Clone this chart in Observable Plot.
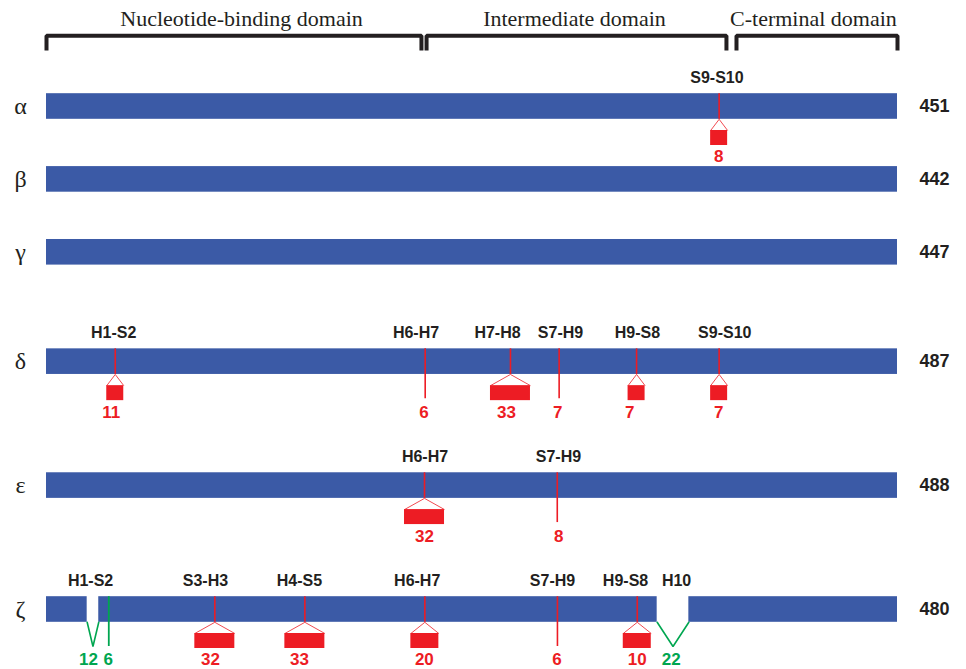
<!DOCTYPE html>
<html>
<head>
<meta charset="utf-8">
<script src="https://cdn.jsdelivr.net/npm/d3@7"></script>
<script src="https://cdn.jsdelivr.net/npm/@observablehq/plot@0.6"></script>
<style>
  html, body { margin: 0; padding: 0; background: #ffffff; }
  #chart svg { display: block; }
</style>
</head>
<body>
<div id="chart"></div>
<script>
// ---------- DATA (x = alignment position, 0..500) ----------
const chains = ["α", "β", "γ", "δ", "ε", "ζ"];
const chainLengths = [451, 442, 447, 487, 488, 480];

const domainNames = ["Nucleotide-binding domain", "Intermediate domain", "C-terminal domain"];
const domainStart = [0, 223.3, 405.4];
const domainEnd = [220.3, 399.5, 500];
const domainLabelAt = [114.6, 310.2, 450.6];

// insertions (red)
const insChain  = ["α", "δ", "δ", "δ", "δ", "δ", "δ", "ε", "ε", "ζ", "ζ", "ζ", "ζ", "ζ"];
const insPos    = [395.2, 40.4, 222.5, 272.6, 301.2, 346.7, 395.2, 222.1, 300.1, 98.9, 151.8, 222.3, 300.2, 347.1];
const insLength = [8, 11, 6, 33, 7, 7, 7, 32, 8, 32, 33, 20, 6, 10];
const insLabelAt = [394.9, 38, 221.8, 270.3, 300.4, 342.7, 394.9, 222.1, 301, 96.4, 148.6, 222, 300, 347.1];
const insGlyph  = ["s", "s", "line", "l", "line", "s", "s", "l", "line", "l", "l", "m", "line", "m"];

// deletions (green)
const delChain  = ["ζ", "ζ", "ζ"];
const delFrom   = [23.9, 36.6, 358.8];
const delTo     = [30.7, 36.6, 377.4];
const delLength = [12, 6, 22];
const delLabelAt = [24.7, 36.2, 367.0];

// loop / secondary-structure labels
const loopChain = ["α", "δ", "δ", "δ", "δ", "δ", "δ", "ε", "ε", "ζ", "ζ", "ζ", "ζ", "ζ", "ζ", "ζ"];
const loopName  = ["S9-S10", "H1-S2", "H6-H7", "H7-H8", "S7-H9", "H9-S8", "S9-S10", "H6-H7", "S7-H9",
                   "H1-S2", "S3-H3", "H4-S5", "H6-H7", "S7-H9", "H9-S8", "H10"];
const loopAt    = [393.9, 39.5, 217.1, 265, 302, 347.2, 398.5, 222.4, 300.8,
                   25.9, 93.4, 148.6, 217.8, 297.3, 340.2, 370.2];

// ---------- LAYOUT ----------
const rowTrack = [0, 1, 2, 3.5, 5.2, 6.9];          // vertical track of each chain
const xDomain = [0, 500], xRange = [46, 897];
const yDomain = [0, 6.9], yRange = [106, 609];
const pxPerTrack = (yRange[1] - yRange[0]) / (yDomain[1] - yDomain[0]);
const unitsPerPx = (xDomain[1] - xDomain[0]) / (xRange[1] - xRange[0]);
const dyT = px => px / pxPerTrack;   // pixel offset -> track units
const dxU = px => px * unitsPerPx;   // pixel width -> x units

const track = Object.fromEntries(chains.map((c, i) => [c, rowTrack[i]]));
const BAR = 12.8;                    // half bar height (px)
const glyphHalf = {s: 8.5, m: 14, l: 20};

const BLUE = "#3b5aa6", RED = "#ed1c24", GREEN = "#00a650", INK = "#231f20";
const SANS = "Liberation Sans, Arial, sans-serif";
const SERIF = "Liberation Serif, Times New Roman, serif";

const rows = chains.map((c, i) => ({chain: c, len: chainLengths[i], t: track[c]}));
const domains = domainNames.map((n, i) => ({name: n, a: domainStart[i], b: domainEnd[i], at: domainLabelAt[i]}));
const ins = insChain.map((c, i) => ({chain: c, t: track[c], pos: insPos[i], n: insLength[i], g: insGlyph[i], at: insLabelAt[i]}));
const dels = delChain.map((c, i) => ({chain: c, t: track[c], a: delFrom[i], b: delTo[i], n: delLength[i], at: delLabelAt[i], id: i}));
const loops = loopChain.map((c, i) => ({t: track[c], name: loopName[i], at: loopAt[i]}));

const boxed = ins.filter(d => d.g !== "line");
const arms = boxed.flatMap(d => [-1, 1].map(s => ({
  x1: d.pos, y1: d.t + dyT(BAR), x2: d.pos + s * dxU(glyphHalf[d.g]), y2: d.t + dyT(24)
})));
const gaps = dels.filter(d => d.b > d.a);
const vPoints = gaps.flatMap(d => [
  {id: d.id, x: d.a, y: d.t + dyT(BAR)},
  {id: d.id, x: (d.a + d.b) / 2, y: d.t + dyT(37)},
  {id: d.id, x: d.b, y: d.t + dyT(BAR)}
]);
const delLines = dels.filter(d => d.b === d.a);

const bracketPts = domains.flatMap((d, i) => [
  {i, x: d.a, y: dyT(50 - yRange[0])},
  {i, x: d.a, y: dyT(35.3 - yRange[0])},
  {i, x: d.b, y: dyT(35.3 - yRange[0])},
  {i, x: d.b, y: dyT(50 - yRange[0])}
]);

const chart = Plot.plot({
  width: 966,
  height: 669,
  margin: 0,
  x: {domain: xDomain, range: xRange, axis: null},
  y: {domain: yDomain, range: yRange, axis: null},
  style: {background: "#ffffff"},
  marks: [
    // domain brackets
    Plot.line(bracketPts, {x: "x", y: "y", z: "i", stroke: INK, strokeWidth: 4,
      strokeLinejoin: "miter", strokeLinecap: "butt"}),
    Plot.text(domains, {x: "at", y: dyT(18 - yRange[0]), text: "name",
      fontFamily: SERIF, fontSize: 22, fill: INK}),
    // chain bars
    Plot.rect(rows, {x1: xDomain[0], x2: xDomain[1], y1: d => d.t - dyT(BAR), y2: d => d.t + dyT(BAR), fill: BLUE}),
    // deletion gaps
    Plot.rect(gaps, {x1: "a", x2: "b", y1: d => d.t - dyT(BAR + 1), y2: d => d.t + dyT(BAR + 1), fill: "#ffffff"}),
    // chain names and lengths
    Plot.text(rows, {x: xDomain[0], dx: -26, y: "t", text: "chain",
      fontFamily: SERIF, fontSize: 24, fill: INK}),
    Plot.text(rows, {x: xDomain[1], dx: 37, y: "t", text: d => String(d.len),
      fontFamily: SANS, fontWeight: "bold", fontSize: 18, fill: INK}),
    // insertion stems
    Plot.ruleX(ins, {x: "pos", y1: d => d.t - dyT(BAR), y2: d => d.t + dyT(d.g === "line" ? 37 : BAR),
      stroke: RED, strokeWidth: 1.6}),
    Plot.link(arms, {x1: "x1", y1: "y1", x2: "x2", y2: "y2", stroke: RED, strokeWidth: 0.8}),
    Plot.rect(boxed, {x1: d => d.pos - dxU(glyphHalf[d.g]), x2: d => d.pos + dxU(glyphHalf[d.g]),
      y1: d => d.t + dyT(24), y2: d => d.t + dyT(39), fill: RED}),
    Plot.text(ins, {x: "at", y: d => d.t + dyT(50.5), text: d => String(d.n),
      fontFamily: SANS, fontWeight: "bold", fontSize: 17, fill: RED}),
    // deletions
    Plot.line(vPoints, {x: "x", y: "y", z: "id", stroke: GREEN, strokeWidth: 1.6, strokeLinejoin: "miter"}),
    Plot.ruleX(delLines, {x: "a", y1: d => d.t - dyT(BAR), y2: d => d.t + dyT(37), stroke: GREEN, strokeWidth: 1.8}),
    Plot.text(dels, {x: "at", y: d => d.t + dyT(50.5), text: d => String(d.n),
      fontFamily: SANS, fontWeight: "bold", fontSize: 17, fill: GREEN}),
    // loop labels
    Plot.text(loops, {x: "at", y: d => d.t - dyT(29), text: "name",
      fontFamily: SANS, fontWeight: "bold", fontSize: 16, fill: INK})
  ]
});
document.getElementById("chart").appendChild(chart);
</script>
</body>
</html>
